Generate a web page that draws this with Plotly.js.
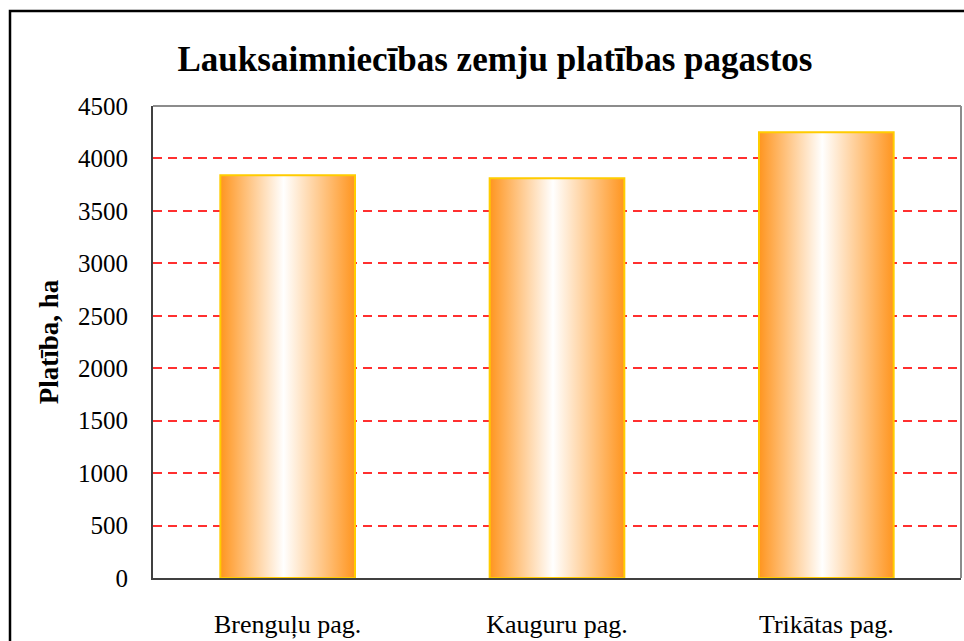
<!DOCTYPE html>
<html>
<head>
<meta charset="utf-8">
<script src="https://cdn.plot.ly/plotly-3.0.1.min.js"></script>
<style>
  html, body { margin: 0; padding: 0; background: #fff; overflow: hidden; }
  #chart { width: 964px; height: 641px; }
</style>
</head>
<body>
<div id="chart"></div>
<script>
const categories = ["Brenguļu pag.", "Kauguru pag.", "Trikātas pag."];
const values = [3840, 3810, 4250];
const tickValues = [0, 500, 1000, 1500, 2000, 2500, 3000, 3500, 4000, 4500];
const titleText = "Lauksaimniecības zemju platības pagastos";
const yTitleText = "Platība, ha";

const FONT = "Liberation Serif";

const trace = {
  type: "bar",
  x: categories,
  y: values,
  marker: { color: "#FF9A2E", line: { color: "#FFCC00", width: 2 } },
  hoverinfo: "x+y"
};

const layout = {
  width: 964,
  height: 641,
  margin: { l: 153, r: 3, t: 106, b: 63 },
  paper_bgcolor: "#ffffff",
  plot_bgcolor: "#ffffff",
  bargap: 0.5,
  showlegend: false,
  font: { family: FONT, color: "#000", size: 25 },
  title: {
    text: "<b>" + titleText + "</b>",
    font: { family: FONT, size: 35, color: "#000" },
    xref: "paper", x: (495 - 153) / 808, xanchor: "center",
    yref: "container", y: 1 - 59 / 641, yanchor: "middle"
  },
  xaxis: {
    type: "category",
    showgrid: false,
    showline: true, linecolor: "#404040", linewidth: 2,
    ticks: "", ticklabelstandoff: 22,
    tickfont: { family: FONT, size: 26, color: "#000" },
    fixedrange: true
  },
  yaxis: {
    range: [0, 4500],
    tickvals: tickValues,
    ticktext: tickValues.map(String),
    showgrid: true, gridcolor: "#FF3030", gridwidth: 2, griddash: "9px,6px",
    zeroline: false,
    showline: true, linecolor: "#404040", linewidth: 2,
    ticks: "", ticklabelstandoff: 18,
    tickfont: { family: FONT, size: 25, color: "#000" },
    title: { text: "<b>" + yTitleText + "</b>", font: { family: FONT, size: 27, color: "#000" }, standoff: 12 },
    fixedrange: true
  },
  shapes: [
    { type: "line", xref: "paper", yref: "paper", x0: 0, x1: 1, y0: 1, y1: 1, line: { color: "#8C8C8C", width: 2 } },
    { type: "line", xref: "paper", yref: "paper", x0: 1, x1: 1, y0: 0, y1: 1, line: { color: "#8C8C8C", width: 2 } },
    { type: "rect", xref: "paper", yref: "paper",
      x0: (10 - 153) / 808, x1: 1.1, y0: -0.3, y1: (578 - 11) / 472,
      line: { color: "#000", width: 2.5 }, fillcolor: "rgba(0,0,0,0)" }
  ]
};

Plotly.newPlot("chart", [trace], layout, { displayModeBar: false, staticPlot: true }).then(function (gd) {
  const svgNS = "http://www.w3.org/2000/svg";
  const svg = gd.querySelector("svg.main-svg");
  let defs = svg.querySelector("defs");
  if (!defs) { defs = document.createElementNS(svgNS, "defs"); svg.insertBefore(defs, svg.firstChild); }
  const grad = document.createElementNS(svgNS, "linearGradient");
  grad.setAttribute("id", "barGrad");
  grad.setAttribute("x1", "0"); grad.setAttribute("y1", "0");
  grad.setAttribute("x2", "1"); grad.setAttribute("y2", "0");
  [["0", "#FF951F"], ["0.47", "#FFFFFF"], ["1", "#FF951F"]].forEach(function (s) {
    const st = document.createElementNS(svgNS, "stop");
    st.setAttribute("offset", s[0]);
    st.setAttribute("stop-color", s[1]);
    grad.appendChild(st);
  });
  defs.appendChild(grad);
  gd.querySelectorAll(".bars .point path").forEach(function (p) {
    p.style.fill = "url(#barGrad)";
  });
});
</script>
</body>
</html>
